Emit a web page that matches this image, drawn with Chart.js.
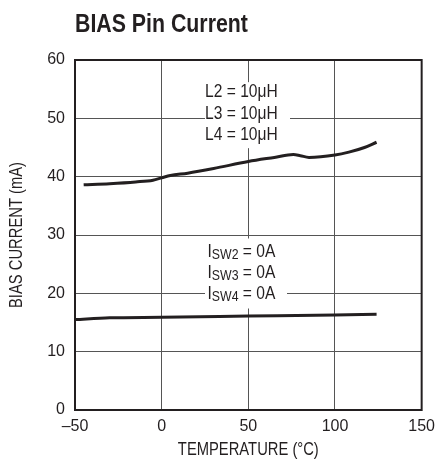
<!DOCTYPE html>
<html>
<head>
<meta charset="utf-8">
<script src="https://cdn.jsdelivr.net/npm/chart.js@4/dist/chart.umd.min.js"></script>
<style>
  html, body { margin: 0; padding: 0; background: #fff; }
  #wrap { width: 442px; height: 465px; }
</style>
</head>
<body>
<div id="wrap"><canvas id="c" width="442" height="465"></canvas></div>
<script>
// datos
const tempsL = [-45, -30, -15, -5, 0, 5, 15, 30, 50, 65, 76, 80, 85, 100, 108, 117, 124];
const biasL = [38.6, 38.8, 39.1, 39.4, 39.8, 40.2, 40.6, 41.4, 42.6, 43.3, 43.8, 43.6, 43.3, 43.7, 44.2, 45.0, 45.9];
const tempsI = [-50, -30, 0, 50, 100, 124];
const biasI = [15.5, 15.8, 15.9, 16.1, 16.3, 16.4];
const xTicks = [-50, 0, 50, 100, 150];
const yTicks = [0, 10, 20, 30, 40, 50, 60];

const FONT = "'Liberation Sans', Arial, sans-serif";
const INK = '#231f20';
const SQ = 0.82; // aplastar el texto para parecer condensado

const toPts = (xs, ys) => xs.map((x, i) => ({ x: x, y: ys[i] }));

// texto estrecho: escala horizontal
function narrowText(ctx, txt, x, y, font, align) {
  ctx.save();
  ctx.font = font;
  const w = ctx.measureText(txt).width * SQ;
  let x0 = x;
  if (align === 'center') x0 = x - w / 2;
  ctx.translate(x0, y);
  ctx.scale(SQ, 1);
  ctx.textAlign = 'left';
  ctx.fillText(txt, 0, 0);
  ctx.restore();
  return w;
}
function textW(ctx, txt, font) {
  ctx.font = font;
  return ctx.measureText(txt).width * SQ;
}

const notes = {
  id: 'notes',
  beforeDatasetsDraw(chart) {
    const { ctx, scales: { x, y } } = chart;
    ctx.save();
    ctx.fillStyle = '#fff';
    ctx.fillRect(x.getPixelForValue(25), y.getPixelForValue(56.2), 85, 66);
    ctx.fillRect(x.getPixelForValue(25), y.getPixelForValue(29.4), 82, 70);
    ctx.fillStyle = INK;
    ctx.textBaseline = 'middle';
    const big = '19px ' + FONT, small = '15px ' + FONT;
    const cx = x.getPixelForValue(46);
    ['L2 = 10\u03bcH', 'L3 = 10\u03bcH', 'L4 = 10\u03bcH'].forEach((t, i) => {
      narrowText(ctx, t, cx, y.getPixelForValue(54.5) + i * 21.5, big, 'center');
    });
    ['2', '3', '4'].forEach((n, i) => {
      const yy = y.getPixelForValue(27.2) + i * 21;
      const wI = textW(ctx, 'I', big), wS = textW(ctx, 'SW' + n, small), wE = textW(ctx, ' = 0A', big);
      const x0 = cx - (wI + wS + wE) / 2;
      narrowText(ctx, 'I', x0, yy, big, 'left');
      narrowText(ctx, 'SW' + n, x0 + wI, yy + 4, small, 'left');
      narrowText(ctx, ' = 0A', x0 + wI + wS, yy, big, 'left');
    });
    ctx.restore();
  },
  afterDraw(chart) {
    const { ctx, chartArea: a } = chart;
    ctx.save();
    ctx.strokeStyle = INK;
    ctx.lineWidth = 2;
    ctx.strokeRect(a.left, a.top, a.right - a.left, a.bottom - a.top);
    ctx.fillStyle = INK;
    ctx.textBaseline = 'alphabetic';
    narrowText(ctx, 'BIAS Pin Current', a.left, 32, 'bold 26px ' + FONT, 'left');
    // titulos de los ejes
    ctx.textBaseline = 'middle';
    narrowText(ctx, 'TEMPERATURE (\u00b0C)', (a.left + a.right) / 2, 450, '18px ' + FONT, 'center');
    ctx.translate(17, (a.top + a.bottom) / 2);
    ctx.rotate(-Math.PI / 2);
    narrowText(ctx, 'BIAS CURRENT (mA)', 0, 0, '18px ' + FONT, 'center');
    ctx.restore();
  }
};

new Chart(document.getElementById('c'), {
  type: 'scatter',
  data: {
    datasets: [
      { data: toPts(tempsL, biasL), showLine: true, borderColor: INK, borderWidth: 3, pointRadius: 0, cubicInterpolationMode: 'monotone' },
      { data: toPts(tempsI, biasI), showLine: true, borderColor: INK, borderWidth: 3, pointRadius: 0, cubicInterpolationMode: 'monotone' }
    ]
  },
  options: {
    responsive: false,
    animation: false,
    layout: { padding: { top: 60, right: 15, left: 0, bottom: 0 } },
    plugins: { legend: { display: false }, tooltip: { enabled: false } },
    scales: {
      x: {
        type: 'linear',
        min: xTicks[0], max: xTicks[xTicks.length - 1],
        afterBuildTicks: s => { s.ticks = xTicks.map(v => ({ value: v })); },
        afterFit: s => { s.height = 55; },
        grid: { color: '#555', lineWidth: 1, drawTicks: false },
        border: { display: false },
        ticks: { padding: 7, color: INK, font: { family: FONT, size: 16 }, callback: v => String(v).replace('-', '\u2013') }
      },
      y: {
        min: yTicks[0], max: yTicks[yTicks.length - 1],
        afterBuildTicks: s => { s.ticks = yTicks.map(v => ({ value: v })); },
        afterFit: s => { s.width = 75; },
        grid: { color: '#555', lineWidth: 1, drawTicks: false },
        border: { display: false },
        ticks: { padding: 10, color: INK, font: { family: FONT, size: 16 } }
      }
    }
  },
  plugins: [notes]
});
</script>
</body>
</html>
